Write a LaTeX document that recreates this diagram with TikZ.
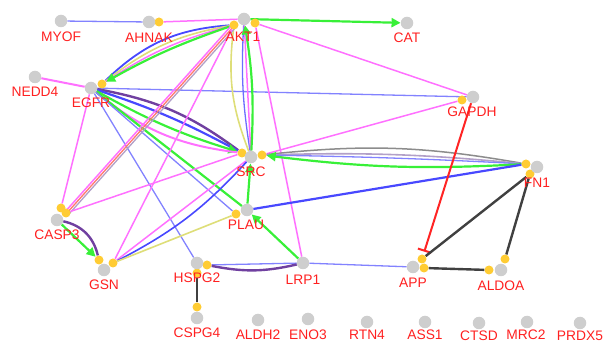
\documentclass[tikz,border=0pt]{standalone}
\usepackage{fontspec}
\setmainfont{Liberation Sans}
\usetikzlibrary{arrows.meta,backgrounds}
\definecolor{ngray}{RGB}{206,206,206}
\definecolor{ydot}{RGB}{255,204,51}
\definecolor{lred}{RGB}{255,32,32}
\definecolor{clblue}{RGB}{130,130,255}
\definecolor{cblue}{RGB}{72,72,255}
\definecolor{cmag}{RGB}{255,112,255}
\definecolor{cgrn}{RGB}{56,240,56}
\definecolor{ckhaki}{RGB}{222,222,120}
\definecolor{csalmon}{RGB}{255,120,110}
\definecolor{cpgray}{RGB}{178,160,200}
\definecolor{cpurp}{RGB}{112,64,160}
\definecolor{cgray}{RGB}{140,140,140}
\definecolor{cdgray}{RGB}{64,64,64}
\definecolor{cred}{RGB}{255,36,36}
\begin{document}
\begin{tikzpicture}[x=1pt,y=-1pt,
  gnode/.style={circle,fill=ngray,draw=none,minimum size=12.5pt,inner sep=0pt},
  yd/.style={circle,fill=ydot,draw=none,minimum size=9pt,inner sep=0pt},
  lab/.style={text=lred,font=\fontsize{13.8}{14}\selectfont,anchor=base,inner sep=0pt},
  lbl/.style={draw=clblue,line width=1.3pt},
  blu/.style={draw=cblue,line width=2.2pt},
  mag/.style={draw=cmag,line width=1.5pt},
  grn/.style={draw=cgrn,line width=2.2pt},
  khk/.style={draw=ckhaki,line width=1.6pt},
  slm/.style={draw=csalmon,line width=1.3pt},
  pgr/.style={draw=cpgray,line width=1.3pt},
  prp/.style={draw=cpurp,line width=2.4pt},
  gry/.style={draw=cgray,line width=1.5pt},
  dgr/.style={draw=cdgray,line width=2.4pt},
  rdl/.style={draw=cred,line width=2pt},
  arr/.style={-{Triangle[length=9pt,width=9pt]}},
  inh/.style={-{Bar[width=14pt,line width=2pt]}}
]
\useasboundingbox (0,0) rectangle (605,344);
% yellow ports
\node[yd] (yAHNAK) at (159,22) {};
\node[yd] (yAKT1a) at (234,25) {};
\node[yd] (yAKT1b) at (255,23) {};
\node[yd] (yEGFR) at (102,84) {};
\node[yd] (yGAPDH) at (462,100) {};
\node[yd] (ySRCa) at (242,153) {};
\node[yd] (ySRCb) at (262,155) {};
\node[yd] (yFNa) at (526,164) {};
\node[yd] (yFNb) at (530,174) {};
\node[yd] (yCASPa) at (61,208) {};
\node[yd] (yCASPb) at (66,213) {};
\node[yd] (yPLAU) at (236,214) {};
\node[yd] (yGSNa) at (99,260) {};
\node[yd] (yGSNb) at (113,263) {};
\node[yd] (yHSPa) at (207,265) {};
\node[yd] (yHSPb) at (197,273) {};
\node[yd] (yCSPG) at (197,307) {};
\node[yd] (yAPPa) at (422,259) {};
\node[yd] (yAPPb) at (424,268) {};
\node[yd] (yALDa) at (489,270) {};
\node[yd] (yALDb) at (505,259) {};
% gray nodes
\node[gnode] (MYOF) at (61,21) {};
\node[gnode] (AHNAK) at (149,22) {};
\node[gnode] (AKT1) at (244,19) {};
\node[gnode] (CAT) at (407,23) {};
\node[gnode] (NEDD4) at (35,77) {};
\node[gnode] (EGFR) at (91,88) {};
\node[gnode] (GAPDH) at (473,97) {};
\node[gnode] (SRC) at (251,157) {};
\node[gnode] (FN1) at (537,167) {};
\node[gnode] (CASP3) at (57,220) {};
\node[gnode] (PLAU) at (247,210) {};
\node[gnode] (GSN) at (104,270) {};
\node[gnode] (HSPG2) at (197,263) {};
\node[gnode] (LRP1) at (303,263) {};
\node[gnode] (APP) at (413,267) {};
\node[gnode] (ALDOA) at (501,270) {};
\node[gnode] (CSPG4) at (197,318) {};
\node[gnode] (ALDH2) at (258,320) {};
\node[gnode] (ENO3) at (308,319) {};
\node[gnode] (RTN4) at (367,322) {};
\node[gnode] (ASS1) at (425,322) {};
\node[gnode] (CTSD) at (479,323) {};
\node[gnode] (MRC2) at (527,322) {};
\node[gnode] (PRDX5) at (580,323) {};
% labels
\node[lab] (lMYOF) at (61,42) {MYOF};
\node[lab] (lAHNAK) at (149,43) {AHNAK};
\node[lab] (lAKT1) at (243,42) {AKT1};
\node[lab] (lCAT) at (407,43) {CAT};
\node[lab] (lNEDD4) at (35,97) {NEDD4};
\node[lab] (lEGFR) at (91,108) {EGFR};
\node[lab] (lGAPDH) at (472,117) {GAPDH};
\node[lab] (lSRC) at (251,177) {SRC};
\node[lab] (lFN1) at (537,188) {FN1};
\node[lab] (lCASP3) at (57,240) {CASP3};
\node[lab] (lPLAU) at (246,230) {PLAU};
\node[lab] (lGSN) at (104,290) {GSN};
\node[lab] (lHSPG2) at (197,283) {HSPG2};
\node[lab] (lLRP1) at (303,285) {LRP1};
\node[lab] (lAPP) at (413,288) {APP};
\node[lab] (lALDOA) at (501,291) {ALDOA};
\node[lab] (lCSPG4) at (197,338) {CSPG4};
\node[lab] (lALDH2) at (258,339.5) {ALDH2};
\node[lab] (lENO3) at (308,339.5) {ENO3};
\node[lab] (lRTN4) at (367,340) {RTN4};
\node[lab] (lASS1) at (425,340) {ASS1};
\node[lab] (lCTSD) at (479,340.5) {CTSD};
\node[lab] (lMRC2) at (526,340) {MRC2};
\node[lab] (lPRDX5) at (580,340.5) {PRDX5};
\begin{scope}[on background layer]
% edges
\draw[lbl] (MYOF) -- (AHNAK);
\draw[mag] (yAHNAK) -- (AKT1);
\draw[grn,arr] (AKT1) -- (CAT);
\draw[mag] (yAKT1b) -- (GAPDH);
\draw[mag,line width=2pt] (NEDD4) -- (EGFR);
\draw[lbl] (EGFR) -- (GAPDH);
% EGFR - AKT1
\draw[blu,line width=1.8pt] (yEGFR) to[bend left=20] (yAKT1a);
\draw[khk] (yEGFR) to[bend left=14] (yAKT1a);
\draw[mag] (yEGFR) to[bend left=9] (yAKT1a);
\draw[grn,arr] (yAKT1a) to[bend right=5] (yEGFR);
% AKT1 - SRC
\draw[khk] (yAKT1a) to[bend right=14] (SRC);
\draw[lbl,draw=cblue!80] (AKT1) to[bend right=6] (SRC);
\draw[mag] (AKT1) to (SRC);
\draw[grn,arr] (SRC) to[bend right=6] (AKT1);
\draw[mag] (yAKT1b) -- (LRP1);
% EGFR - SRC
\draw[prp] (EGFR) to[bend left=13] (ySRCa);
\draw[blu] (EGFR) to[bend left=5] (ySRCa);
\draw[grn,arr] (EGFR) to[bend right=6] (ySRCa);
\draw[mag,line width=2pt] (EGFR) to[bend right=16] (ySRCa);
\draw[grn] (EGFR) -- (PLAU);
\draw[lbl] (EGFR) -- (yPLAU);
\draw[lbl] (EGFR) -- (HSPG2);
\draw[mag] (EGFR) -- (yCASPa);
% AKT1 - CASP3
\draw[mag] ([shift={(-2,0)}]yCASPb.center) -- ([shift={(-2,0)}]yAKT1a.center);
\draw[slm] ([shift={(0.5,0.5)}]yCASPb.center) -- ([shift={(0.5,0.5)}]yAKT1a.center);
\draw[pgr] ([shift={(3,1)}]yCASPb.center) -- ([shift={(3,1)}]yAKT1a.center);
\draw[mag] (yAKT1a) -- (yGSNb);
\draw[mag] (yCASPb) -- (ySRCa);
% CASP3 - GSN
\draw[prp] (CASP3) to[bend left=32] (yGSNa);
\draw[grn,arr] (CASP3) -- (yGSNa);
% GSN
\draw[mag] (yGSNb) -- (SRC);
\draw[blu,line width=1.6pt] (yGSNb) to[bend right=10] (SRC);
\draw[khk] (yGSNb) -- (yPLAU);
% SRC - others
\draw[mag] (ySRCb) -- (yGAPDH);
\draw[gry] (ySRCb) to[bend left=8] (yFNa);
\draw[pgr,line width=1.6pt] (ySRCb) to[bend left=3.5] (yFNa);
\draw[lbl] (ySRCb) to[bend left=1] (yFNa);
\draw[grn,arr] (yFNa) to[bend left=5] (ySRCb);
\draw[grn,arr] (PLAU) -- (SRC);
\draw[blu] (PLAU) -- (yFNa);
\draw[grn,arr] (LRP1) -- (PLAU);
% bottom
\draw[lbl] (yHSPa) -- (LRP1);
\draw[prp] (yHSPa) to[bend right=12] (LRP1);
\draw[dgr] (yHSPb) -- (yCSPG);
\draw[lbl] (LRP1) -- (APP);
\draw[rdl,inh,shorten >=3pt] (GAPDH) -- (yAPPa);
\draw[dgr] (yFNb) -- (yAPPa);
\draw[dgr] (yFNb) -- (yALDb);
\draw[dgr] (yAPPb) -- (yALDa);
\end{scope}
\end{tikzpicture}
\end{document}
